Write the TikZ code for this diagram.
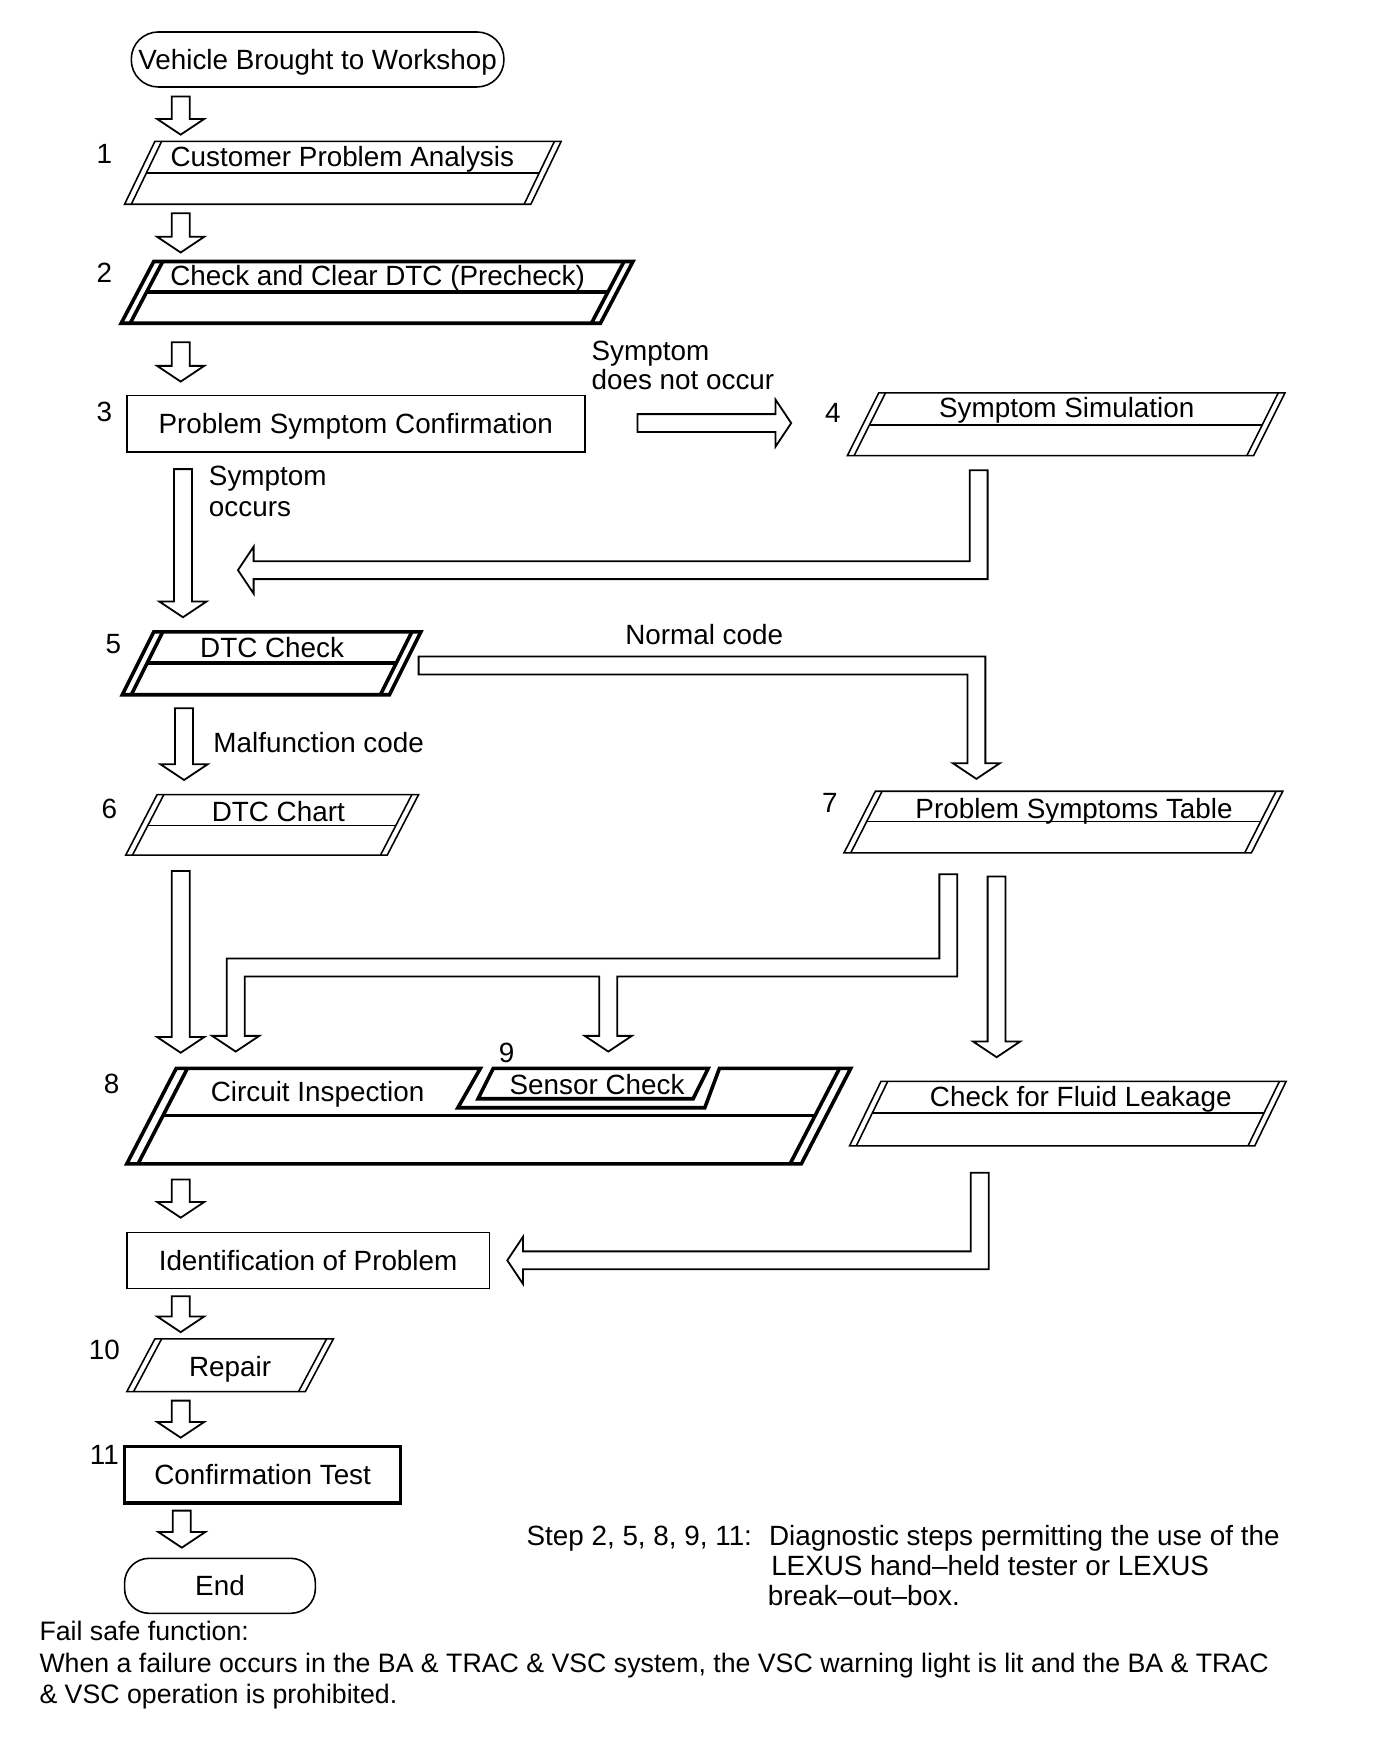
\documentclass[tikz,border=0pt]{standalone}
\usepackage{fontspec}
\setmainfont{Liberation Sans}
\usetikzlibrary{calc}
\newcommand{\lbl}{\fontsize{24.8}{27}\selectfont}
\newcommand{\lbls}{\fontsize{23.8}{27}\selectfont}
\tikzset{txt/.style={font=\lbl, inner sep=0pt, text height=17.8pt, text depth=0pt},
  thinln/.style={line width=1.4pt},
  thickln/.style={line width=3.2pt},
  blk/.style={line width=1.6pt, fill=white, line join=miter},
  term/.style={draw, thinln, rounded corners=24pt, minimum height=49pt, txt},
  procbox/.style={draw, thinln, minimum height=50pt, txt}}

% slanted input/output block with doubled sides
\newcommand{\ioblock}[8]{%
  \coordinate (#1-tl) at (#3,#5);
  \coordinate (#1-tr) at (#4,#5);
  \coordinate (#1-bl) at (#3-#7,#6);
  \coordinate (#1-br) at (#4-#7,#6);
  \draw[#2] (#1-tl) -- (#1-tr) -- (#1-br) -- (#1-bl) -- cycle;
  \draw[#2] ($(#1-tl)+(#8,0)$) -- ($(#1-bl)+(#8,0)$);
  \draw[#2] ($(#1-tr)-(#8,0)$) -- ($(#1-br)-(#8,0)$);}
\newcommand{\ioline}[4]{\draw[#2] ($(#1-tl)!#3!(#1-bl)+(#4,0)$) -- ($(#1-tr)!#3!(#1-br)-(#4,0)$);}

% hollow block arrows
\newcommand{\blockdown}[2]{\draw[blk] let \p1=(#1), \p2=(#2) in
  (\x1-8pt,\y1) -- (\x1-8pt,\y2+14pt) -- (\x1-21pt,\y2+14pt) -- (\x1,\y2)
  -- (\x1+21pt,\y2+14pt) -- (\x1+8pt,\y2+14pt) -- (\x1+8pt,\y1) -- cycle;}
\newcommand{\blockright}[2]{\draw[blk] let \p1=(#1), \p2=(#2) in
  (\x1,\y1+8pt) -- (\x2-14pt,\y1+8pt) -- (\x2-14pt,\y1+21pt) -- (\x2,\y1)
  -- (\x2-14pt,\y1-21pt) -- (\x2-14pt,\y1-8pt) -- (\x1,\y1-8pt) -- cycle;}
\newcommand{\blockdownleft}[2]{\draw[blk] let \p1=(#1), \p2=(#2) in
  (\x1-8pt,\y1) -- (\x1+8pt,\y1) -- (\x1+8pt,\y2-8pt) -- (\x2+14pt,\y2-8pt)
  -- (\x2+14pt,\y2-21pt) -- (\x2,\y2) -- (\x2+14pt,\y2+21pt) -- (\x2+14pt,\y2+8pt)
  -- (\x1-8pt,\y2+8pt) -- cycle;}
\newcommand{\blockrightdown}[2]{\draw[blk] let \p1=(#1), \p2=(#2) in
  (\x1,\y1+8pt) -- (\x2+8pt,\y1+8pt) -- (\x2+8pt,\y2+14pt) -- (\x2+21pt,\y2+14pt)
  -- (\x2,\y2) -- (\x2-21pt,\y2+14pt) -- (\x2-8pt,\y2+14pt) -- (\x2-8pt,\y1-8pt)
  -- (\x1,\y1-8pt) -- cycle;}

\begin{document}
\begin{tikzpicture}[x=1pt, y=-1pt]
    \fill[white] (0,0) rectangle (1240,1570);
    \useasboundingbox (0,0) rectangle (1240,1570);

    % terminals and rectangles
    \node[term, minimum width=332pt] (start) at (283,53) {Vehicle Brought to Workshop};
    \node[procbox, minimum width=408pt] (psc) at (317,377.5) {Problem Symptom Confirmation};
    \node[procbox, minimum width=323pt] (idp) at (274.5,1123) {Identification of Problem};
    \node[procbox, thickln, minimum width=246pt] (ctest) at (234,1314) {Confirmation Test};
    \node[term, rounded corners=22pt, minimum width=170pt] (fin) at (196,1413) {End};

    % slanted blocks
    \ioblock{cpa}{thinln}{138}{500}{126}{182}{27}{6}
    \ioline{cpa}{thinln}{0.5}{6}
    \ioblock{ccd}{thickln}{137}{564}{233}{288}{29}{8}
    \ioline{ccd}{thickln}{0.49}{8}
    \ioblock{ssim}{thinln}{783}{1145}{350}{406}{28}{6}
    \ioline{ssim}{thinln}{0.51}{6}
    \ioblock{dtcc}{thickln}{137}{375}{563}{619}{28}{8}
    \ioline{dtcc}{thickln}{0.5}{8}
    \ioblock{dtch}{thinln}{140}{373}{708}{762}{28}{6}
    \ioline{dtch}{thinln}{0.51}{6}
    \ioblock{pst}{thinln}{780}{1143}{705}{760}{28}{6}
    \ioline{pst}{thinln}{0.49}{6}
    \ioblock{cfl}{thinln}{785}{1146}{963.5}{1021}{28}{6}
    \ioline{cfl}{thinln}{0.49}{6}
    \ioblock{rep}{thinln}{138}{297}{1193}{1240}{25}{6}

    % circuit inspection with sensor check set into it
    \coordinate (ci-tl) at (157,952);
    \coordinate (ci-tr) at (758,952);
    \coordinate (ci-bl) at (113,1037);
    \coordinate (ci-br) at (714,1037);
    \draw[thickln] (ci-tl) -- (428,952) -- (408,987) -- (628,987) -- (641,952)
        -- (ci-tr) -- (ci-br) -- (ci-bl) -- cycle;
    \draw[thickln] ($(ci-tl)+(10,0)$) -- ($(ci-bl)+(10,0)$);
    \draw[thickln] ($(ci-tr)-(10,0)$) -- ($(ci-br)-(10,0)$);
    \ioline{ci}{thickln}{0.494}{10}
    \draw[thickln] (439.5,952) -- (631,952) -- (617.6,979) -- (426,979) -- cycle;

    % block texts
    \node[txt] (cpatxt) at (305,139.5) {Customer Problem Analysis};
    \node[txt] (ccdtxt) at (336.5,245.5) {Check and Clear DTC (Precheck)};
    \node[txt] (ssimtxt) at (950.5,363.5) {Symptom Simulation};
    \node[txt] (dtcctxt) at (242.5,577) {DTC Check};
    \node[txt] (dtchtxt) at (248,723) {DTC Chart};
    \node[txt] (psttxt) at (957,720) {Problem Symptoms Table};
    \node[txt] (citxt) at (283,973) {Circuit Inspection};
    \node[txt] (sctxt) at (532,966.5) {Sensor Check};
    \node[txt] (cfltxt) at (963,977) {Check for Fluid Leakage};
    \node[txt] (reptxt) at (205,1217.5) {Repair};

    % step numbers
    \node[txt] (n1) at (93,136.5) {1};
    \node[txt] (n2) at (93,243) {2};
    \node[txt] (n3) at (93,366.5) {3};
    \node[txt] (n4) at (742,368) {4};
    \node[txt] (n5) at (101,573) {5};
    \node[txt] (n6) at (97.5,720) {6};
    \node[txt] (n7) at (739.5,715.5) {7};
    \node[txt] (n8) at (99.5,965) {8};
    \node[txt] (n9) at (451.5,938) {9};
    \node[txt] (n10) at (93,1202) {10};
    \node[txt] (n11) at (93,1296) {11};

    % arrow ends
    \coordinate (a0s) at (161,86);   \coordinate (a0t) at (161,120);
    \coordinate (a1s) at (161,190);  \coordinate (a1t) at (161,225);
    \coordinate (a2s) at (161,305);  \coordinate (a2t) at (161,340);
    \coordinate (a3s) at (163,418);  \coordinate (a3t) at (163,550);
    \coordinate (a4s) at (164,631);  \coordinate (a4t) at (164,695);
    \coordinate (a5s) at (161,776);  \coordinate (a5t) at (161,938);
    \coordinate (a6s) at (161,1051); \coordinate (a6t) at (161,1085);
    \coordinate (a7s) at (161,1155); \coordinate (a7t) at (161,1187);
    \coordinate (a8s) at (161,1248); \coordinate (a8t) at (161,1281);
    \coordinate (a9s) at (162,1346); \coordinate (a9t) at (162,1379);
    \coordinate (nos) at (568,377);  \coordinate (not) at (705,377);
    \coordinate (sims) at (872,419); \coordinate (simt) at (212,508);
    \coordinate (ncs) at (373,593);  \coordinate (nct) at (870,694);
    \coordinate (psts) at (845,779); \coordinate (pstj) at (845,862);
    \coordinate (cit) at (210,937);  \coordinate (sct) at (542,937);
    \coordinate (fls) at (888,781);  \coordinate (flt) at (888,942);
    \coordinate (cfls) at (873,1045); \coordinate (cflt) at (452,1123);

    \blockdown{a0s}{a0t}
    \blockdown{a1s}{a1t}
    \blockdown{a2s}{a2t}
    \blockdown{a3s}{a3t}
    \blockdown{a4s}{a4t}
    \blockdown{a5s}{a5t}
    \blockdown{a6s}{a6t}
    \blockdown{a7s}{a7t}
    \blockdown{a8s}{a8t}
    \blockdown{a9s}{a9t}
    \blockright{nos}{not}
    \blockdownleft{sims}{simt}
    \blockrightdown{ncs}{nct}
    \blockdown{fls}{flt}
    \blockdownleft{cfls}{cflt}
    % branch from problem symptoms table to circuit inspection and sensor check
    \draw[blk] let \p1=(psts), \p2=(pstj), \p3=(cit), \p4=(sct) in
      (\x1-8pt,\y1) -- (\x1+8pt,\y1) -- (\x1+8pt,\y2-8pt) -- (\x4+8pt,\y2-8pt)
      -- (\x4+8pt,\y4+14pt) -- (\x4+21pt,\y4+14pt) -- (\x4,\y4) -- (\x4-21pt,\y4+14pt)
      -- (\x4-8pt,\y4+14pt) -- (\x4-8pt,\y2-8pt) -- (\x3+8pt,\y2-8pt) -- (\x3+8pt,\y3+14pt)
      -- (\x3+21pt,\y3+14pt) -- (\x3,\y3) -- (\x3-21pt,\y3+14pt) -- (\x3-8pt,\y3+14pt)
      -- (\x3-8pt,\y2+8pt) -- (\x1-8pt,\y2+8pt) -- cycle;

    % connector labels
    \node[txt, anchor=west] (dn1) at (527,312) {Symptom};
    \node[txt, anchor=west] (dn2) at (527,338) {does not occur};
    \node[txt, anchor=west] (oc1) at (186,424) {Symptom};
    \node[txt, anchor=west] (oc2) at (186,451) {occurs};
    \node[txt, anchor=west] (ncode) at (557,565) {Normal code};
    \node[txt, anchor=west] (mcode) at (190,662) {Malfunction code};

    % notes
    \node[txt, anchor=west] (stp) at (469,1368) {Step 2, 5, 8, 9, 11:};
    \node[txt, anchor=west] (stp1) at (685,1368) {Diagnostic steps permitting the use of the};
    \node[txt, anchor=west] (stp2) at (687,1395) {LEXUS hand–held tester or LEXUS};
    \node[txt, anchor=west] (stp3) at (684,1422) {break–out–box.};
    \node[txt, font=\lbls, anchor=west] (fs1) at (35,1453) {Fail safe function:};
    \node[txt, font=\lbls, anchor=west] (fs2) at (35,1481) {When a failure occurs in the BA \& TRAC \& VSC system, the VSC warning light is lit and the BA \& TRAC};
    \node[txt, font=\lbls, anchor=west] (fs3) at (35,1509) {\& VSC operation is prohibited.};
\end{tikzpicture}
\end{document}
